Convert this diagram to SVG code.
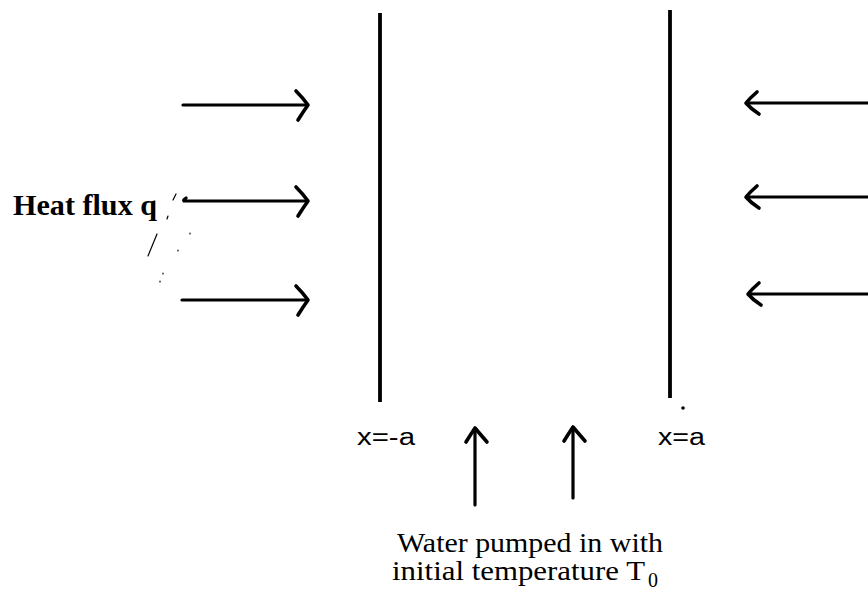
<svg xmlns="http://www.w3.org/2000/svg" width="868" height="590" viewBox="0 0 868 590">
<style>
.ln{stroke:#000;stroke-width:3.2;fill:none;stroke-linecap:round;stroke-linejoin:round}
.hd{stroke:#000;stroke-width:3.6;fill:none;stroke-linecap:round;stroke-linejoin:round}
.wall{stroke:#000;stroke-width:3.8;fill:none}
.noise{stroke:#000;stroke-width:1.2;fill:none;stroke-linecap:round}
.serif{font-family:"Liberation Serif","Times New Roman",serif;fill:#000}
.sans{font-family:"Liberation Sans",Arial,sans-serif;fill:#000}
</style>
<rect width="868" height="590" fill="#fff"/>
<g id="wall-left"><line class="wall" x1="380" y1="13" x2="380" y2="402"/></g>
<g id="wall-right"><line class="wall" x1="670" y1="10" x2="670" y2="398"/><circle cx="683" cy="408" r="1.8" fill="#000"/></g>
<g id="label-heat-flux"><text class="serif" x="13" y="215" font-size="30" font-weight="bold" textLength="144" lengthAdjust="spacingAndGlyphs">Heat flux q</text>
<path class="noise" d="M176 194 L173 200 M168 216 L167 219 M157 234 L148 256 M178 250 L178 251 M190 233 L190 234 M163 273 L163 274 M160 281 L160 282"/></g>
<g id="label-xneg"><text class="sans" x="357" y="445" font-size="23" textLength="58" lengthAdjust="spacingAndGlyphs">x=-a</text></g>
<g id="label-xpos"><text class="sans" x="658" y="445" font-size="23" textLength="47" lengthAdjust="spacingAndGlyphs">x=a</text></g>
<g id="label-water"><text class="serif" x="397" y="552" font-size="27" textLength="266" lengthAdjust="spacingAndGlyphs">Water pumped in with</text>
<text class="serif" x="392" y="580" font-size="27" textLength="253" lengthAdjust="spacingAndGlyphs">initial temperature T</text>
<text class="serif" x="648" y="587" font-size="20">0</text></g>
<g id="connectors">
<line class="ln" x1="183" y1="105" x2="307" y2="105"/><path class="hd" d="M296 91 Q303 98 308 105 Q303 112 298 120"/>
<path class="ln" d="M186 198 Q183 200 184 201 L307 201"/><path class="hd" d="M296 187 Q303 194 308 201 Q303 208 298 216"/>
<line class="ln" x1="182" y1="300" x2="307" y2="300"/><path class="hd" d="M296 286 Q303 293 308 300 Q303 307 298 315"/>
<line class="ln" x1="748" y1="103" x2="868" y2="103"/><path class="hd" d="M757 92 Q750 98 746 103 Q751 109 759 114"/>
<line class="ln" x1="748" y1="197" x2="868" y2="197"/><path class="hd" d="M757 186 Q750 192 746 197 Q751 203 759 208"/>
<line class="ln" x1="750" y1="294" x2="868" y2="294"/><path class="hd" d="M759 283 Q752 289 748 294 Q753 300 761 305"/>
<line class="ln" x1="475" y1="430" x2="475" y2="505"/><path class="hd" d="M466 442 Q471 434 475 428 Q480 434 487 442"/>
<line class="ln" x1="573" y1="429" x2="573" y2="498"/><path class="hd" d="M564 441 Q569 433 573 427 Q578 433 585 441"/>
</g>
</svg>
